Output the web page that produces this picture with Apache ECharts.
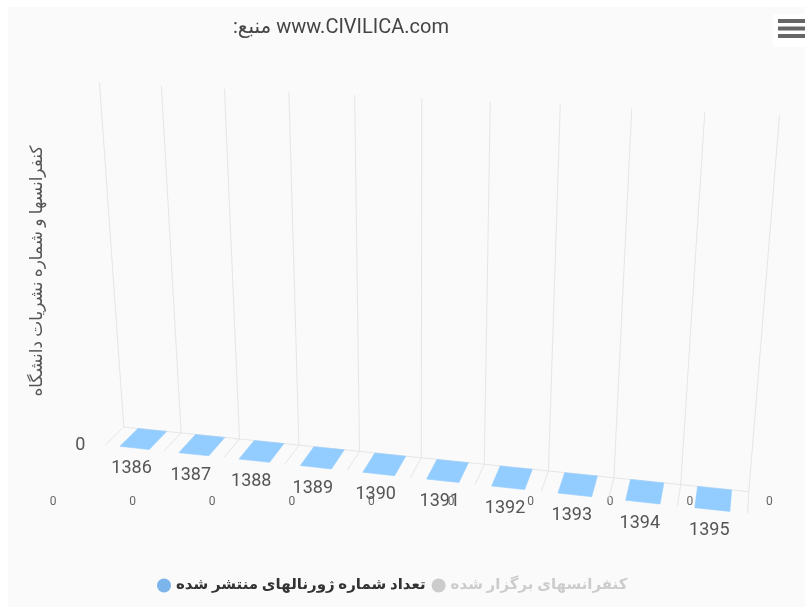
<!DOCTYPE html>
<html><head><meta charset="utf-8">
<script src="https://cdn.jsdelivr.net/npm/echarts@6/dist/echarts.min.js"></script>
<style>html,body{margin:0;padding:0;background:#fff}#c{width:805px;height:607px}</style>
</head><body><div id="c"></div>
<script>
// ---- data ----
const categories = ['1386','1387','1388','1389','1390','1391','1392','1393','1394','1395'];
const journals = [0,0,0,0,0,0,0,0,0,0];
const conferences = [0,0,0,0,0,0,0,0,0,0];
const yTicks = [0];
const seriesNames = ['تعداد شماره ژورنالهای منتشر شده', 'کنفرانسهای برگزار شده'];
const titleText = '\u200E:منبع www.CIVILICA.com';
const yAxisTitle = 'کنفرانسها و شماره نشریات دانشگاه';

// ---- 3D view (style) ----
const view = { alpha: 19, beta: 13.5, depth: 46, focal: 1474, distance: 1414 };
const rad = Math.PI / 180;
const sA = Math.sin(view.alpha * rad), cA = Math.cos(view.alpha * rad);
const sB = Math.sin(view.beta * rad), cB = Math.cos(view.beta * rad);
const FONT = 'Roboto, "DejaVu Sans", sans-serif';

function project(cs, x, y, z) {
  const ox = cs.x + cs.width / 2, oy = cs.y + cs.height / 2;
  const u = x - ox, v = y - oy, w = z - view.depth / 2;
  const rx = cB * u + sB * w;
  const ry = sA * sB * u + cA * v - sA * cB * w;
  const rz = -cA * sB * u + sA * v + cA * cB * w;
  const p = view.focal / (view.distance + rz);
  return [ox + p * rx, oy + p * ry];
}

function shade(hex, amt) {
  const n = parseInt(hex.slice(1), 16);
  const f = c => Math.max(0, Math.min(255, Math.round(c + 255 * amt)));
  return 'rgb(' + f(n >> 16) + ',' + f((n >> 8) & 255) + ',' + f(n & 255) + ')';
}

function renderFrame(params, api) {
  const cs = params.coordSys;
  const n = categories.length;
  const band = api.size([1, 0])[0];
  const yb = api.coord([0, 0])[1];
  const yt = cs.y;
  const D = view.depth;
  const x0 = api.coord([0, 0])[0] - band / 2;
  const children = [];
  const line = (a, b) => children.push({ type: 'line', shape: { x1: a[0], y1: a[1], x2: b[0], y2: b[1] }, style: { stroke: '#e6e6e6', lineWidth: 1 } });
  for (let k = 0; k <= n; k++) {
    const x = x0 + k * band;
    line(project(cs, x, yb, D), project(cs, x, yt, D));
    line(project(cs, x, yb, 0), project(cs, x, yb, D));
  }
  line(project(cs, x0, yb, D), project(cs, x0 + n * band, yb, D));
  return { type: 'group', children };
}

function area(pts) {
  let s = 0;
  for (let i = 0; i < pts.length; i++) {
    const a = pts[i], b = pts[(i + 1) % pts.length];
    s += a[0] * b[1] - b[0] * a[1];
  }
  return s / 2;
}

function renderBar(params, api) {
  const cs = params.coordSys;
  const i = api.value(0), val = api.value(1);
  const band = api.size([1, 0])[0];
  const w = band * 0.5;
  const xc = api.coord([i, 0])[0];
  const yBase = api.coord([i, 0])[1];
  const yTop = api.coord([i, val])[1];
  const x0 = xc - w / 2, x1 = xc + w / 2, z0 = 0, z1 = view.depth;
  const base = api.visual('color');
  const faces = [
    { pts: [[x0, yTop, z1], [x0, yTop, z0], [x0, yBase, z0], [x0, yBase, z1]], fill: shade(base, -0.1) },
    { pts: [[x1, yTop, z0], [x1, yTop, z1], [x1, yBase, z1], [x1, yBase, z0]], fill: shade(base, -0.1) },
    { pts: [[x0, yTop, z0], [x1, yTop, z0], [x1, yBase, z0], [x0, yBase, z0]], fill: base },
    { pts: [[x0, yTop, z1], [x1, yTop, z1], [x1, yTop, z0], [x0, yTop, z0]], fill: shade(base, 0.09) }
  ];
  const children = [];
  faces.forEach(f => {
    const p = f.pts.map(q => project(cs, q[0], q[1], q[2]));
    if (area(p) > 0.5) {
      children.push({ type: 'polygon', shape: { points: p }, style: { fill: f.fill, stroke: f.fill, lineWidth: 0.6 } });
    }
  });
  return { type: 'group', children };
}

function renderCatLabel(params, api) {
  const cs = params.coordSys;
  const i = api.value(0);
  const xc = api.coord([i, 0])[0];
  const yb = api.coord([i, 0])[1];
  const p = project(cs, xc, yb, 0);
  return { type: 'text', style: { text: categories[i], x: p[0] - 3, y: p[1] + 21, align: 'center', verticalAlign: 'middle', fill: '#555555', fontSize: 18, fontFamily: FONT } };
}

function renderYLabel(params, api) {
  const cs = params.coordSys;
  const t = api.value(1);
  const y = api.coord([0, t])[1];
  const p = project(cs, cs.x, y, 0);
  return { type: 'text', style: { text: String(yTicks[params.dataIndex]), x: p[0] - 20, y: p[1] + 1, align: 'right', verticalAlign: 'middle', fill: '#555555', fontSize: 18, fontFamily: FONT } };
}

const chart = echarts.init(document.getElementById('c'));
chart.setOption({
  animation: false,
  backgroundColor: '#ffffff',
  textStyle: { fontFamily: FONT },
  title: { text: titleText, left: 233, top: 18, padding: 0, textStyle: { fontSize: 20, fontWeight: 'normal', color: '#444444', fontFamily: FONT } },
  toolbox: {
    right: 0, top: 19, itemSize: 27, padding: 0,
    iconStyle: { color: '#666666', borderColor: '#666666', borderWidth: 0 },
    feature: { myMenu: { show: true, title: ' ', icon: 'path://M0,0H27V4H0Z M0,7.5H27V11.5H0Z M0,15H27V19H0Z', onclick: function () {} } }
  },
  graphic: { elements: [
    { type: 'rect', z: -10, shape: { x: 8, y: 7, width: 797, height: 600 }, style: { fill: '#fafafa' } },
    { type: 'rect', z: -5, shape: { x: 773, y: 14, width: 32, height: 33, r: 2 }, style: { fill: '#ffffff' } }
  ] },
  legend: {
    data: seriesNames, selected: { [seriesNames[1]]: false },
    left: 157, top: 578, padding: 0, icon: 'circle', itemWidth: 14, itemHeight: 14, itemGap: 6,
    inactiveColor: '#cccccc',
    textStyle: { fontSize: 15, fontWeight: 'bold', color: '#333333', fontFamily: FONT }
  },
  grid: [
    { left: 91, width: 650, top: 108.5, height: 369 },
    { left: 53, right: 35.6, top: 482, height: 10 },
    { left: 60, width: 1, top: 142, height: 258 }
  ],
  xAxis: [
    { gridIndex: 0, type: 'category', data: categories, show: false },
    { gridIndex: 1, type: 'category', data: categories, boundaryGap: false,
      axisLine: { show: false }, axisTick: { show: false }, splitLine: { show: false },
      axisLabel: { interval: 0, margin: 4, fontSize: 12, color: '#666666', formatter: (v, idx) => String(journals[idx]) } },
    { gridIndex: 2, type: 'value', show: false }
  ],
  yAxis: [
    { gridIndex: 0, type: 'value', min: 0, max: 1, show: false },
    { gridIndex: 1, type: 'value', show: false },
    { gridIndex: 2, type: 'value', axisLine: { show: false }, axisTick: { show: false }, axisLabel: { show: false }, splitLine: { show: false },
      name: yAxisTitle, nameLocation: 'middle', nameGap: 14, nameRotate: 90,
      nameTextStyle: { fontSize: 17, color: '#555555', fontFamily: FONT } }
  ],
  series: [
    { type: 'custom', name: 'frame', silent: true, z: 1, xAxisIndex: 0, yAxisIndex: 0, data: [[0, 0]], renderItem: renderFrame },
    { type: 'custom', name: seriesNames[0], z: 3, xAxisIndex: 0, yAxisIndex: 0, itemStyle: { color: '#7cb5ec' },
      data: journals.map((v, i) => [i, v]), renderItem: renderBar },
    { type: 'custom', name: seriesNames[1], z: 3, xAxisIndex: 0, yAxisIndex: 0, itemStyle: { color: '#434348' },
      data: conferences.map((v, i) => [i, v]), renderItem: renderBar },
    { type: 'custom', name: 'xlabels', silent: true, z: 4, xAxisIndex: 0, yAxisIndex: 0,
      data: categories.map((c, i) => [i, 0]), renderItem: renderCatLabel },
    { type: 'custom', name: 'ylabels', silent: true, z: 4, xAxisIndex: 0, yAxisIndex: 0,
      data: yTicks.map(t => [0, t]), renderItem: renderYLabel }
  ]
});
</script></body></html>
